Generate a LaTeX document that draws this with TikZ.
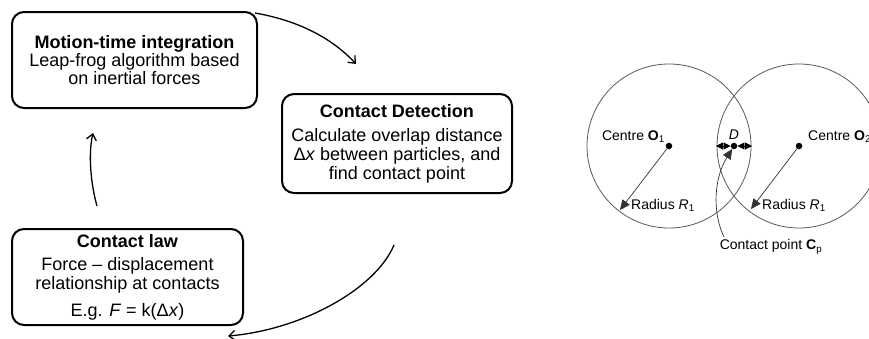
\documentclass[tikz,border=0pt]{standalone}
\usepackage{fontspec}
\setmainfont{Liberation Sans}
\usetikzlibrary{arrows.meta}

\begin{document}
\begin{tikzpicture}[x=1pt,y=-1pt,
  stage/.style={draw, line width=2pt, rounded corners=12pt, align=center,
    inner sep=0pt, font=\fontsize{18}{19}\selectfont},
  flow/.style={line width=1.3pt, -{Straight Barb[length=6pt,width=10pt]}},
  ball/.style={draw=black!65, line width=0.8pt},
  lbl/.style={font=\fontsize{14}{16}\selectfont, inner sep=0pt},
  ptr/.style={draw=black!80, line width=0.7pt, -{Triangle[length=10pt,width=9pt]}},
  dimline/.style={draw=black, line width=0.9pt,
    {Triangle[length=7pt,width=7pt]}-{Triangle[length=7pt,width=7pt]}},
  dot/.style={circle, fill=black, inner sep=0pt, minimum size=6.5pt}]

\useasboundingbox[fill=white] (0,0) rectangle (869,338);

% ---- simulation cycle ----
\node[stage, minimum width=245pt, minimum height=96pt] (motion) at (134.5,60)
  {\textbf{Motion-time integration}\\[-1pt]
   Leap-frog algorithm based\\[-1pt]
   on inertial forces};

\node[stage, minimum width=230pt, minimum height=99pt] (detect) at (397,143.5)
  {\textbf{Contact Detection}\\[5pt]
   Calculate overlap distance\\
   Δ\textit{x} between particles, and\\
   find contact point};

\node[stage, minimum width=231pt, minimum height=96pt] (law) at (127.5,277)
  {\textbf{Contact law}\\[4pt]
   Force – displacement\\
   relationship at contacts\\[8pt]
   E.g. \textit{F} = k(Δ\textit{x})};

\coordinate (a1s) at (255,13);
\coordinate (a1e) at (356,64);
\coordinate (a2s) at (97,206);
\coordinate (a2e) at (93,133);
\coordinate (a3s) at (394,245);
\coordinate (a3e) at (228,336);

\draw[flow] (a1s) .. controls (295,20) and (330,36) .. (a1e);
\draw[flow] (a2s) .. controls (91,185) and (88,155) .. (a2e);
\draw[flow] (a3s) .. controls (375,290) and (300,330) .. (a3e);

% ---- two overlapping particles ----
\node[dot] (o1) at (669,146) {};
\node[dot] (o2) at (799,146) {};
\node[dot] (cp) at (734,146) {};

\draw[ball] (o1.center) circle[radius=82];
\draw[ball] (o2.center) circle[radius=82];

\node[lbl, anchor=base east] (c1) at (665,140) {Centre \textbf{O}\textsubscript{1}};
\node[lbl, anchor=base west] (c2) at (808,140) {Centre \textbf{O}\textsubscript{2}};

\coordinate (r1) at (620,210);
\coordinate (r2) at (751,209);
\draw[ptr] (o1) -- (r1);
\draw[ptr] (o2) -- (r2);
\node[lbl, anchor=base west] (rad1) at (631,209) {Radius \textit{R}\textsubscript{1}};
\node[lbl, anchor=base west] (rad2) at (762,209) {Radius \textit{R}\textsubscript{1}};

\coordinate (d1) at (716,146);
\coordinate (d2) at (752,146);
\draw[dimline] (cp) -- (d1);
\draw[dimline] (cp) -- (d2);
\node[lbl, anchor=base] (dlab) at (734,139) {\textit{D}};

\node[lbl] (cpl) at (771,247) {Contact point \textbf{C}\textsubscript{p}};
\coordinate (cps) at (724,237);
\draw[ptr] (cps) .. controls (712,212) and (714,178) .. (cp);
\end{tikzpicture}
\end{document}
